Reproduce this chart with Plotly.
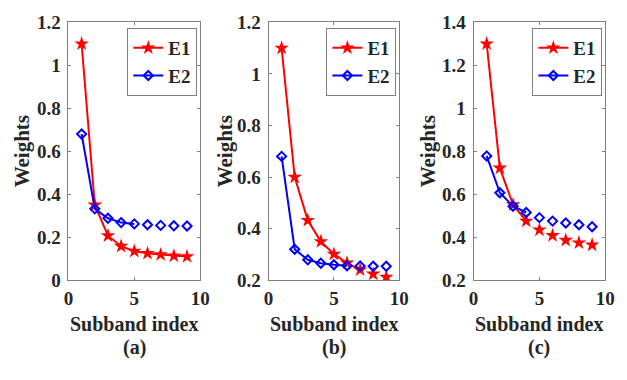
import plotly.graph_objects as go

x_idx = [1, 2, 3, 4, 5, 6, 7, 8, 9]

a_e1 = [1.10, 0.35, 0.207, 0.158, 0.135, 0.125, 0.119, 0.113, 0.110]
a_e2 = [0.68, 0.332, 0.288, 0.268, 0.262, 0.258, 0.255, 0.253, 0.252]
b_e1 = [1.10, 0.60, 0.432, 0.350, 0.301, 0.267, 0.240, 0.224, 0.212]
b_e2 = [0.68, 0.320, 0.279, 0.266, 0.260, 0.256, 0.255, 0.254, 0.254]
c_e1 = [1.30, 0.722, 0.551, 0.475, 0.434, 0.408, 0.386, 0.374, 0.364]
c_e2 = [0.778, 0.607, 0.544, 0.515, 0.491, 0.475, 0.466, 0.458, 0.449]

# number of points joined by the line in each series
line_len = {"a": (9, 5), "b": (7, 6), "c": (4, 4)}

panels = [
    ("a", a_e1, a_e2, [0, 1.2], [0, 0.2, 0.4, 0.6, 0.8, 1.0, 1.2], ["0", "0.2", "0.4", "0.6", "0.8", "1", "1.2"]),
    ("b", b_e1, b_e2, [0.2, 1.2], [0.2, 0.4, 0.6, 0.8, 1.0, 1.2], ["0.2", "0.4", "0.6", "0.8", "1", "1.2"]),
    ("c", c_e1, c_e2, [0.2, 1.4], [0.2, 0.4, 0.6, 0.8, 1.0, 1.2, 1.4], ["0.2", "0.4", "0.6", "0.8", "1", "1.2", "1.4"]),
]
captions = ["(a)", "(b)", "(c)"]
x_ticks = [0, 5, 10]

W, H = 627, 380
px_left = [65, 270, 480]
px_right = [200, 404, 615]
top_px, bot_px = 13, 286
ytitle_px = [17, 225, 433]

FONT = "Liberation Serif, Times New Roman, serif"
RED = "#ff0000"
BLUE = "#0000ff"
AX = "#7f7f7f"
TXT = "#262626"

fig = go.Figure()
layout = dict(
    width=W, height=H, margin=dict(l=0, r=0, t=0, b=0),
    paper_bgcolor="white", plot_bgcolor="white",
    font=dict(family=FONT, size=19, color=TXT),
    annotations=[],
)

star = dict(symbol="star", size=11, color=RED, line=dict(width=0))
diam = dict(symbol="diamond-open", size=7, color=BLUE, line=dict(width=2, color=BLUE))

for i, (key, e1, e2, yr, ytv, ytt) in enumerate(panels):
    n = "" if i == 0 else str(i + 1)
    xa, ya = "x" + n, "y" + n
    leg = "legend" + n
    k1, k2 = line_len[key]
    fig.add_trace(go.Scatter(
        x=x_idx[:k1], y=e1[:k1], mode="lines+markers", name="<b>E1</b>",
        line=dict(color=RED, width=2), marker=star,
        xaxis=xa, yaxis=ya, legend=leg))
    if k1 < len(x_idx):
        fig.add_trace(go.Scatter(
            x=x_idx[k1:], y=e1[k1:], mode="markers", showlegend=False,
            marker=star, xaxis=xa, yaxis=ya))
    fig.add_trace(go.Scatter(
        x=x_idx[:k2], y=e2[:k2], mode="lines+markers", name="<b>E2</b>",
        line=dict(color=BLUE, width=2), marker=diam,
        xaxis=xa, yaxis=ya, legend=leg))
    if k2 < len(x_idx):
        fig.add_trace(go.Scatter(
            x=x_idx[k2:], y=e2[k2:], mode="markers", showlegend=False,
            marker=diam, xaxis=xa, yaxis=ya))

    xd = [px_left[i] / W, px_right[i] / W]
    yd = [1 - bot_px / H, 1 - top_px / H]
    common = dict(showgrid=False, zeroline=False, showline=True, linecolor=AX, linewidth=1,
                  mirror="ticks", ticks="inside", ticklen=3, tickcolor=AX,
                  tickfont=dict(family=FONT, size=19, color=TXT))
    layout["xaxis" + n] = dict(
        domain=xd, range=[0, 10], tickvals=x_ticks, ticklabelstandoff=1,
        ticktext=["<b>%d</b>" % t for t in x_ticks], anchor=ya, **common)
    layout["yaxis" + n] = dict(
        domain=yd, range=yr, tickvals=ytv, ticklabelstandoff=3,
        ticktext=["<b>" + t + "</b>" for t in ytt], anchor=xa, **common)
    layout[leg] = dict(
        x=(px_right[i] - 3) / W, y=1 - 19 / H, xanchor="right", yanchor="top",
        bgcolor="white", bordercolor=AX, borderwidth=1,
        font=dict(family=FONT, size=19, color=TXT),
        tracegroupgap=0, itemwidth=30)
    cx = (px_left[i] + px_right[i]) / 2 / W
    layout["annotations"] += [
        dict(text="<b>Subband index</b>", x=cx, y=1 - 332 / H, xref="paper", yref="paper",
             showarrow=False, xanchor="center", yanchor="middle",
             font=dict(family=FONT, size=20, color=TXT)),
        dict(text="<b>" + captions[i] + "</b>", x=cx, y=1 - 357 / H, xref="paper", yref="paper",
             showarrow=False, xanchor="center", yanchor="middle",
             font=dict(family=FONT, size=20, color=TXT)),
        dict(text="<b>Weights</b>", x=ytitle_px[i] / W, y=1 - 150 / H, xref="paper", yref="paper",
             showarrow=False, xanchor="center", yanchor="middle", textangle=-90,
             font=dict(family=FONT, size=21, color=TXT)),
    ]

fig.update_layout(**layout)
fig.write_html("out.html")
